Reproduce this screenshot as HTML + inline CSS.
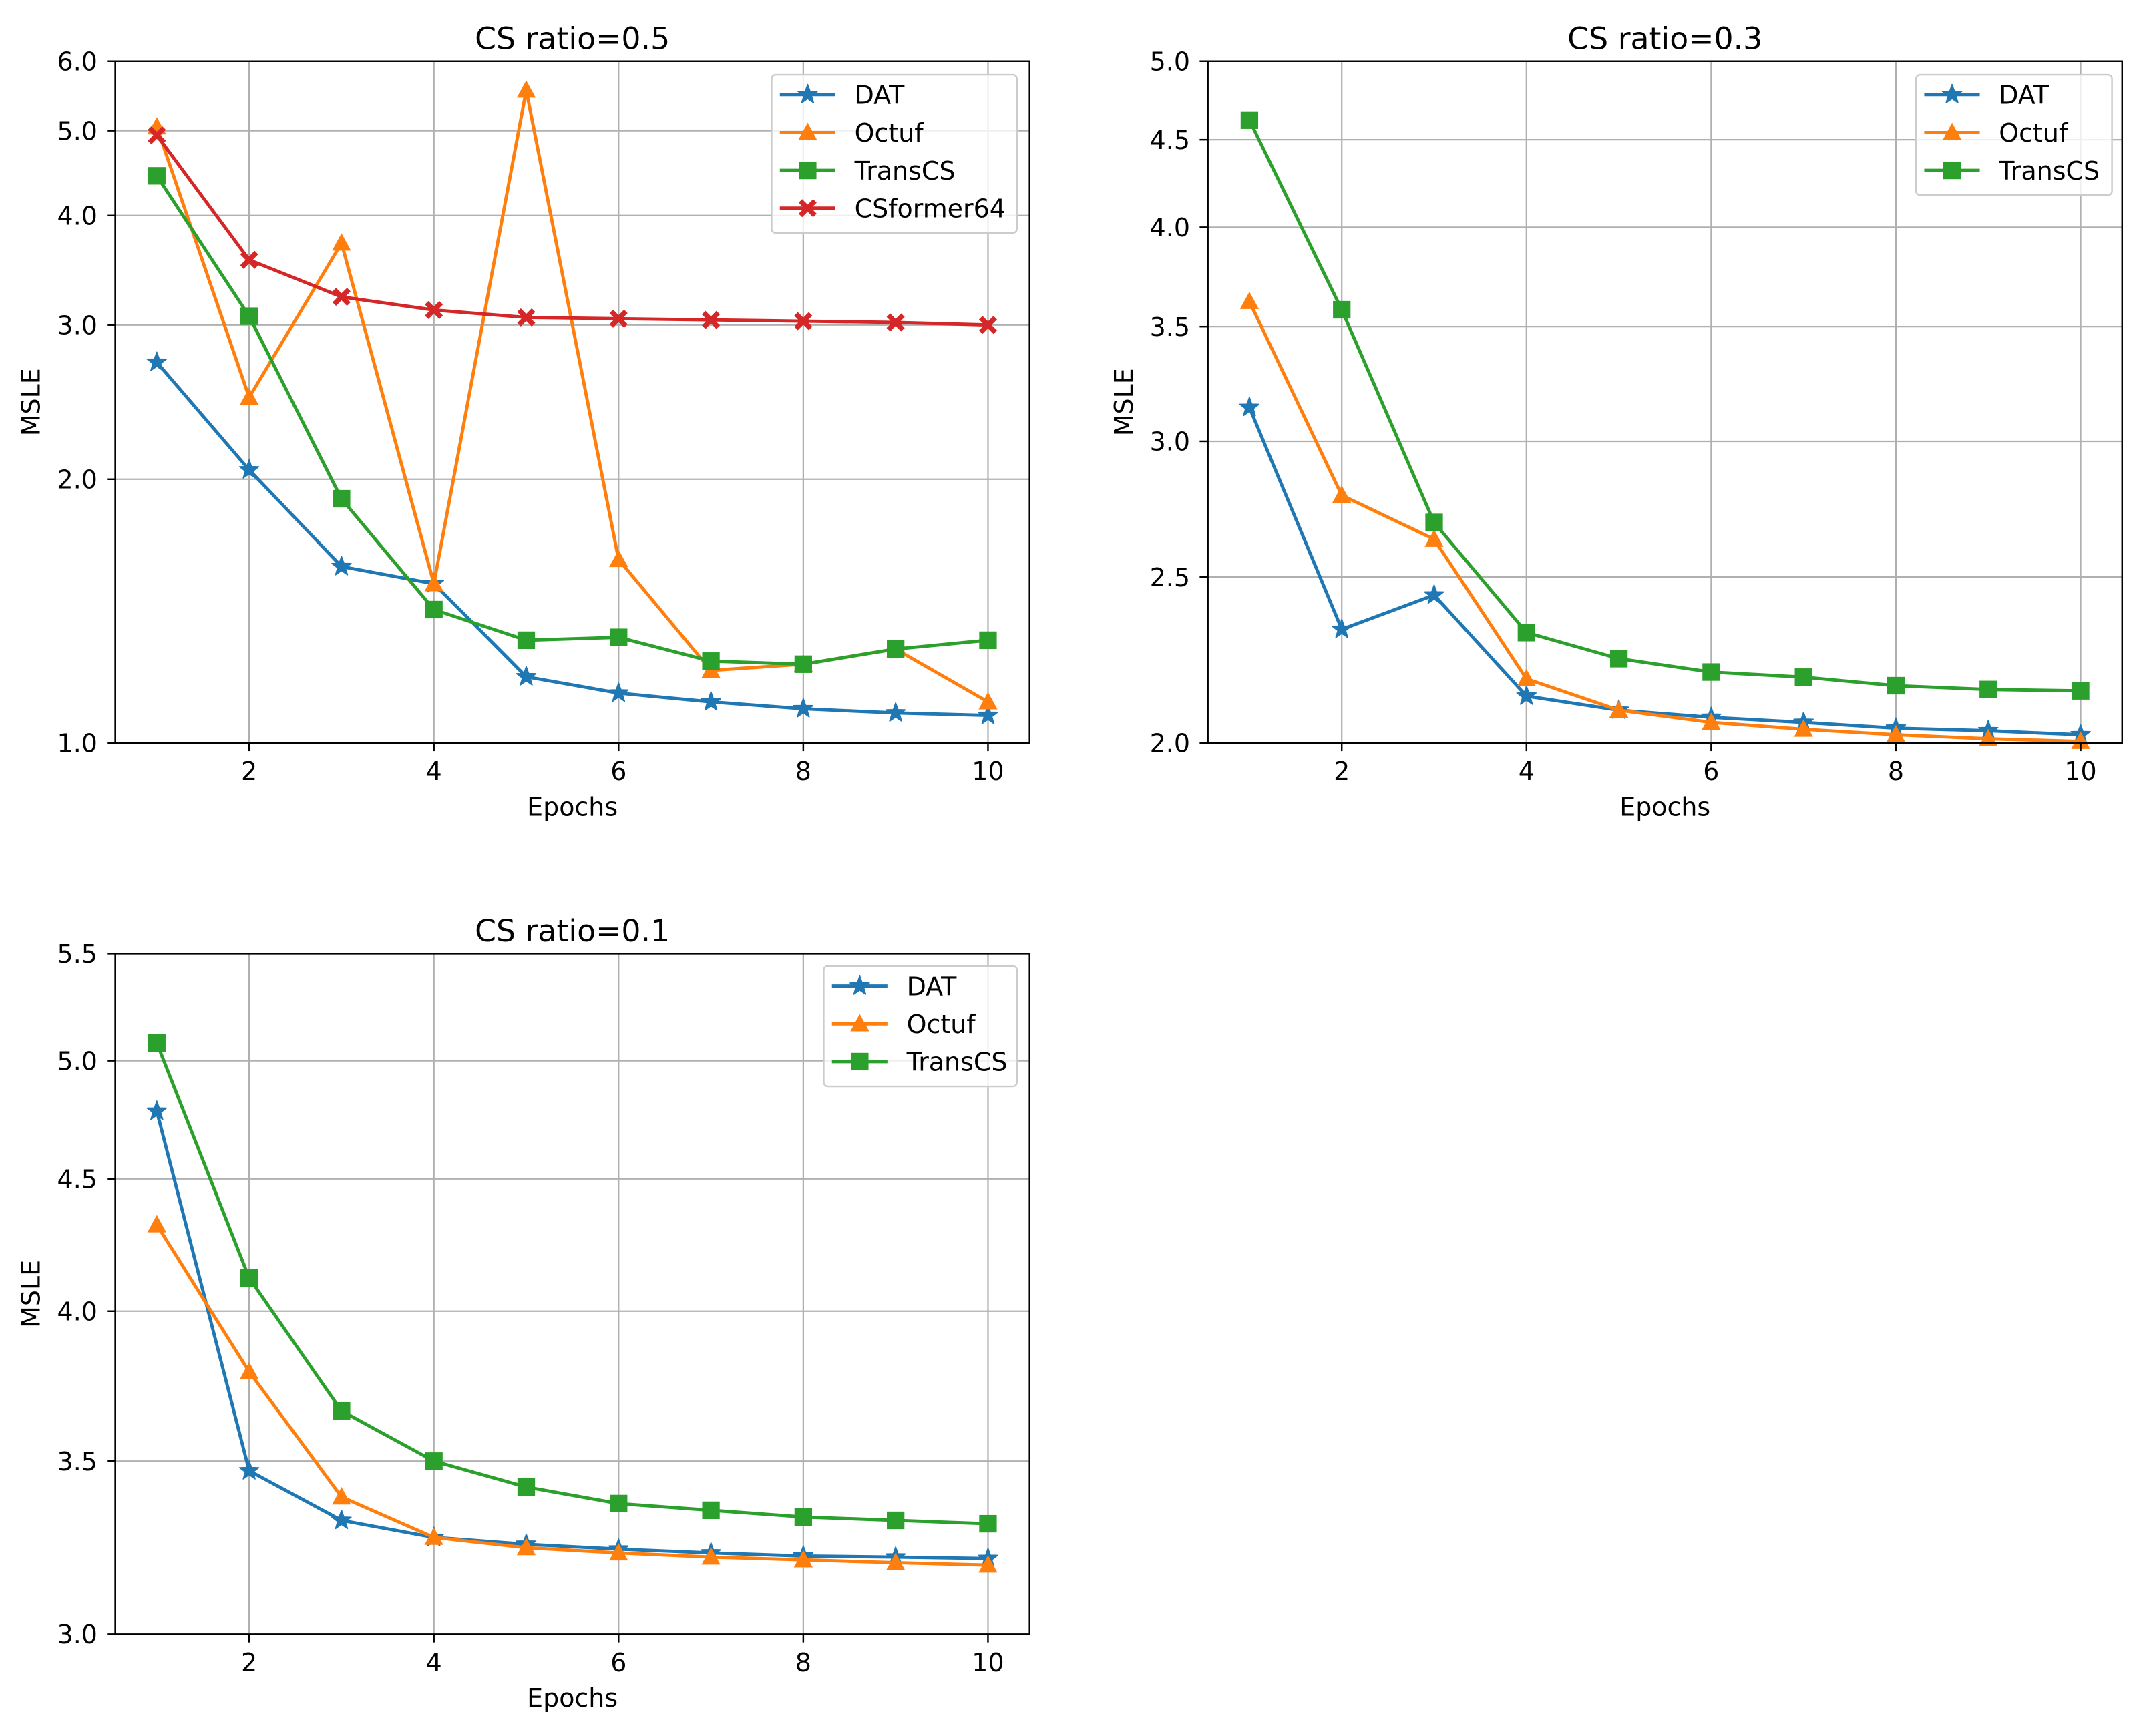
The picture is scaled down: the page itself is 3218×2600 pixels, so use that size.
<!DOCTYPE html>
<html><head><meta charset="utf-8">
<style>html,body{margin:0;padding:0;background:#fff;}svg{display:block;}
text{font-family:"DejaVu Sans","Liberation Sans",sans-serif;fill:#000;}</style></head>
<body>
<svg id="fig" xmlns="http://www.w3.org/2000/svg" width="3218" height="2600" viewBox="0 0 1568 1266.87"></svg>
<script>
const epochs = [1,2,3,4,5,6,7,8,9,10];
const xTicks = [2,4,6,8,10];
// Plot 1: CS ratio=0.5
const p1DAT = [2.72,2.05,1.59,1.52,1.19,1.14,1.114,1.094,1.082,1.075];
const p1Octuf = [5.05,2.48,3.72,1.52,5.56,1.62,1.21,1.23,1.28,1.114];
const p1TransCS = [4.44,3.07,1.90,1.42,1.31,1.32,1.24,1.23,1.28,1.31];
const p1CSformer = [4.94,3.56,3.23,3.12,3.06,3.05,3.04,3.03,3.02,3.00];
const p1YTicks = [1.0,2.0,3.0,4.0,5.0,6.0];
// Plot 2: CS ratio=0.3
const p2DAT = [3.14,2.33,2.44,2.13,2.09,2.07,2.056,2.04,2.033,2.022];
const p2Octuf = [3.62,2.79,2.63,2.18,2.09,2.056,2.037,2.022,2.011,2.004];
const p2TransCS = [4.62,3.58,2.69,2.32,2.24,2.20,2.185,2.16,2.149,2.145];
const p2YTicks = [2.0,2.5,3.0,3.5,4.0,4.5,5.0];
// Plot 3: CS ratio=0.1
const p3DAT = [4.78,3.47,3.32,3.27,3.25,3.236,3.225,3.216,3.213,3.209];
const p3Octuf = [4.32,3.79,3.39,3.27,3.24,3.225,3.213,3.205,3.197,3.19];
const p3TransCS = [5.08,4.12,3.66,3.50,3.42,3.37,3.35,3.33,3.32,3.31];
const p3YTicks = [3.0,3.5,4.0,4.5,5.0,5.5];

const NS='http://www.w3.org/2000/svg';
const svg=document.getElementById('fig');
function mk(tag,attrs,parent){const e=document.createElementNS(NS,tag);for(const k in attrs)e.setAttribute(k,attrs[k]);(parent||svg).appendChild(e);return e;}
const COL={DAT:'#1f77b4',Octuf:'#ff7f0e',TransCS:'#2ca02c',CSformer64:'#d62728'};
const FS=18.5, FT=22.3;
function marker(g,type,x,y,c){
  let e;
  if(type==='star'){const pts=[];for(let i=0;i<10;i++){const r=i%2?3.0:7.4;const a=-Math.PI/2+i*Math.PI/5;pts.push((x+r*Math.cos(a)).toFixed(2)+','+(y+r*Math.sin(a)).toFixed(2));}
    e=mk('polygon',{points:pts.join(' '),fill:c,stroke:c,'stroke-width':0.8,'stroke-linejoin':'round'},g);}
  else if(type==='tri'){e=mk('polygon',{points:`${x},${y-7.2} ${x+6.9},${y+5.5} ${x-6.9},${y+5.5}`,fill:c},g);}
  else if(type==='sq'){e=mk('rect',{x:x-6.4,y:y-6.4,width:12.8,height:12.8,fill:c},g);}
  else {const s=6.6,w=2.6;e=mk('path',{d:`M${x-s},${y-s+w} L${x-s+w},${y-s} L${x},${y-w} L${x+s-w},${y-s} L${x+s},${y-s+w} L${x+w},${y} L${x+s},${y+s-w} L${x+s-w},${y+s} L${x},${y+w} L${x-s+w},${y+s} L${x-s},${y+s-w} L${x-w},${y} Z`,fill:c},g);}
  return e;
}
function plot(cfg){
  const {L,R,T,B,ymin,ymax,yTicks,title,series,legend}=cfg;
  const g=mk('g',{});
  
  
  const xs=v=>L+(v-0.55)/(9.9)*(R-L);
  const ys=v=>B-(Math.log(v)-Math.log(ymin))/(Math.log(ymax)-Math.log(ymin))*(B-T);
  xTicks.forEach(t=>{const l=mk('line',{x1:xs(t),x2:xs(t),y1:T,y2:B,stroke:'#b0b0b0','stroke-width':1.1},g);
    });
  yTicks.forEach(t=>{const l=mk('line',{x1:L,x2:R,y1:ys(t),y2:ys(t),stroke:'#b0b0b0','stroke-width':1.1},g);
    });
  series.forEach(s=>{
    const sg=mk('g',{},g);
    
    
    mk('polyline',{points:epochs.map((e,i)=>xs(e)+','+ys(s.data[i])).join(' '),fill:'none',stroke:COL[s.name],'stroke-width':2.4,'stroke-linejoin':'round'},sg);
    epochs.forEach((e,i)=>{const m=marker(sg,s.mk,xs(e),ys(s.data[i]),COL[s.name]);
      });
  });
  const fr=mk('rect',{x:L,y:T,width:R-L,height:B-T,fill:'none',stroke:'#000','stroke-width':1.2},g);
  
  xTicks.forEach(t=>{mk('line',{x1:xs(t),x2:xs(t),y1:B,y2:B+6,stroke:'#000','stroke-width':1.2},g);
    const tx=mk('text',{x:xs(t),y:B+27,'font-size':FS,'text-anchor':'middle'},g);tx.textContent=t;
    });
  yTicks.forEach(t=>{mk('line',{x1:L-6,x2:L,y1:ys(t),y2:ys(t),stroke:'#000','stroke-width':1.2},g);
    const tx=mk('text',{x:L-13,y:ys(t)+6.7,'font-size':FS,'text-anchor':'end'},g);tx.textContent=t.toFixed(1);
    });
  const xl=mk('text',{x:(L+R)/2,y:B+53,'font-size':FS,'text-anchor':'middle'},g);xl.textContent='Epochs';
  
  const yc=(T+B)/2, yx=L-55;
  const yl=mk('text',{x:yx,y:yc,'font-size':FS,'text-anchor':'middle',transform:`rotate(-90 ${yx} ${yc})`},g);yl.textContent='MSLE';
  
  const tt=mk('text',{x:(L+R)/2,y:T-9,'font-size':FT,'text-anchor':'middle'},g);tt.textContent=title;
  
  const lg=mk('g',{},g);
  
  
  mk('rect',{x:legend.x,y:legend.y,width:legend.w,height:series.length*27.6+5,rx:3,fill:'#fff','fill-opacity':0.8,stroke:'#cccccc','stroke-width':1.2},lg);
  series.forEach((s,i)=>{const cy=legend.y+14.5+i*27.6;
    const eg=mk('g',{},lg);
    
    
    mk('line',{x1:legend.x+6,x2:legend.x+46.5,y1:cy,y2:cy,stroke:COL[s.name],'stroke-width':2.4},eg);
    marker(eg,s.mk,legend.x+26.3,cy,COL[s.name]);
    const t=mk('text',{x:legend.x+60.5,y:cy+6.7,'font-size':FS},eg);t.textContent=s.name;});
}
plot({name:'chart-cs-ratio-0-5',L:84.1,R:751.2,T:44.7,B:542.2,ymin:1,ymax:6,yTicks:p1YTicks,title:'CS ratio=0.5',
  legend:{x:563,y:54.6,w:179},
  series:[{name:'DAT',data:p1DAT,mk:'star'},{name:'Octuf',data:p1Octuf,mk:'tri'},{name:'TransCS',data:p1TransCS,mk:'sq'},{name:'CSformer64',data:p1CSformer,mk:'x'}]});
plot({name:'chart-cs-ratio-0-3',L:881.3,R:1548.4,T:44.7,B:542.2,ymin:2,ymax:5,yTicks:p2YTicks,title:'CS ratio=0.3',
  legend:{x:1398,y:54.6,w:143},
  series:[{name:'DAT',data:p2DAT,mk:'star'},{name:'Octuf',data:p2Octuf,mk:'tri'},{name:'TransCS',data:p2TransCS,mk:'sq'}]});
plot({name:'chart-cs-ratio-0-1',L:84.1,R:751.2,T:696,B:1192.5,ymin:3,ymax:5.5,yTicks:p3YTicks,title:'CS ratio=0.1',
  legend:{x:601,y:705,w:141},
  series:[{name:'DAT',data:p3DAT,mk:'star'},{name:'Octuf',data:p3Octuf,mk:'tri'},{name:'TransCS',data:p3TransCS,mk:'sq'}]});
</script>
</body></html>
